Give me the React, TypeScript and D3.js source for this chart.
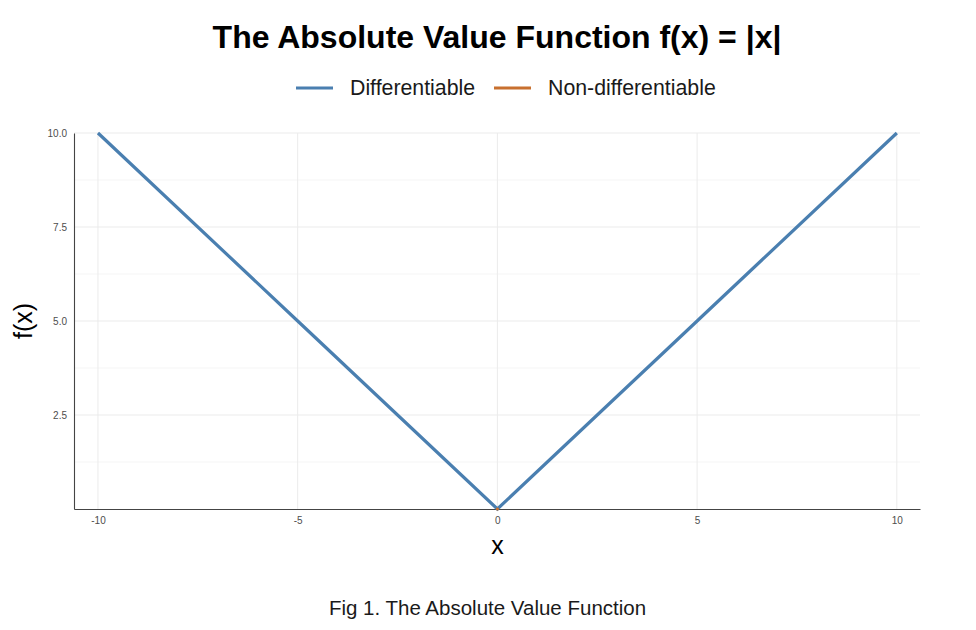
import * as d3 from "d3";
import { useEffect, useRef } from "react";

const diffX = [-10, -5, 0, 5, 10];
const diffY = [10, 5, 0, 5, 10];
const nonDiffX = [0];
const nonDiffY = [0];
const xTicks = [-10, -5, 0, 5, 10];
const yTicks = [2.5, 5.0, 7.5, 10.0];
const yMinor = [1.25, 3.75, 6.25, 8.75];
const seriesNames = ["Differentiable", "Non-differentiable"];
const seriesColors = ["#4a7fb0", "#c8702f"];

const W = 976;
const H = 630;

export default function App() {
  const ref = useRef<SVGSVGElement | null>(null);

  useEffect(() => {
    if (!ref.current) return;
    const svg = d3.select(ref.current);
    svg.selectAll("*").remove();

    const font = "'Liberation Sans', Arial, Helvetica, sans-serif";
    const margin = { top: 133, right: 56, bottom: 121, left: 74 };
    const innerW = W - margin.left - margin.right;
    const innerH = H - margin.top - margin.bottom;

    const x = d3.scaleLinear().domain([-10.6, 10.58]).range([0, innerW]);
    const y = d3.scaleLinear().domain([0, 10]).range([innerH, 0]);

    svg.append("rect").attr("width", W).attr("height", H).attr("fill", "#fff");

    const g = svg.append("g").attr("transform", `translate(${margin.left},${margin.top})`);

    // grid
    g.selectAll(".ymin")
      .data(yMinor)
      .join("line")
      .attr("x1", 0)
      .attr("x2", innerW)
      .attr("y1", (d) => y(d))
      .attr("y2", (d) => y(d))
      .attr("stroke", "#f2f2f2")
      .attr("stroke-width", 0.8);
    g.selectAll(".ymaj")
      .data(yTicks)
      .join("line")
      .attr("x1", 0)
      .attr("x2", innerW)
      .attr("y1", (d) => y(d))
      .attr("y2", (d) => y(d))
      .attr("stroke", "#ebebeb")
      .attr("stroke-width", 1);
    g.selectAll(".xmaj")
      .data(xTicks)
      .join("line")
      .attr("x1", (d) => x(d))
      .attr("x2", (d) => x(d))
      .attr("y1", 0)
      .attr("y2", innerH)
      .attr("stroke", "#ebebeb")
      .attr("stroke-width", 1);

    // axes (plain hyphen for negatives, like the reference)
    const xAxis = d3
      .axisBottom(x)
      .tickValues(xTicks)
      .tickSize(0)
      .tickPadding(8)
      .tickFormat((d) => String(d as number));
    const yAxis = d3.axisLeft(y).tickValues(yTicks).tickSize(0).tickPadding(7).tickFormat(d3.format(".1f"));

    const gx = g.append("g").attr("transform", `translate(0,${innerH})`).call(xAxis);
    const gy = g.append("g").call(yAxis);
    for (const a of [gx, gy]) {
      a.select(".domain").attr("stroke", "#444").attr("stroke-width", 1.1);
      a.selectAll("text").attr("fill", "#4d4d4d").style("font-family", font).style("font-size", "10px");
    }

    // lines
    const diff = diffX.map((v, i) => [v, diffY[i]] as [number, number]);
    const nonDiff = nonDiffX.map((v, i) => [v, nonDiffY[i]] as [number, number]);
    const line = d3
      .line<[number, number]>()
      .x((d) => x(d[0]))
      .y((d) => y(d[1]));

    g.append("path")
      .datum(diff)
      .attr("fill", "none")
      .attr("stroke", seriesColors[0])
      .attr("stroke-width", 3.2)
      .attr("d", line);

    g.append("path")
      .datum(nonDiff.length === 1 ? [nonDiff[0], nonDiff[0]] : nonDiff)
      .attr("fill", "none")
      .attr("stroke", seriesColors[1])
      .attr("stroke-width", 3.2)
      .attr("stroke-linecap", "round")
      .attr("d", (d) => `${line(d)}h0.01`);

    // title
    svg.append("text")
      .attr("x", 497)
      .attr("y", 48)
      .attr("text-anchor", "middle")
      .style("font-family", font)
      .style("font-weight", "bold")
      .style("font-size", "32px")
      .attr("fill", "#000")
      .text("The Absolute Value Function f(x) = |x|");

    // legend
    const legendX = [296, 494];
    seriesNames.forEach((name, i) => {
      svg.append("line")
        .attr("x1", legendX[i])
        .attr("x2", legendX[i] + 37)
        .attr("y1", 88)
        .attr("y2", 88)
        .attr("stroke", seriesColors[i])
        .attr("stroke-width", 3.2);
      svg.append("text")
        .attr("x", legendX[i] + 54)
        .attr("y", 95)
        .style("font-family", font)
        .style("font-size", "21.3px")
        .attr("fill", "#1a1a1a")
        .text(name);
    });

    // axis titles
    svg.append("text")
      .attr("x", margin.left + x(0))
      .attr("y", 554)
      .attr("text-anchor", "middle")
      .style("font-family", font)
      .style("font-size", "25px")
      .attr("fill", "#000")
      .text("x");

    svg.append("text")
      .attr("transform", `translate(32,${margin.top + innerH / 2}) rotate(-90)`)
      .attr("text-anchor", "middle")
      .style("font-family", font)
      .style("font-size", "25px")
      .attr("fill", "#000")
      .text("f(x)");

    // caption
    svg.append("text")
      .attr("x", 487.5)
      .attr("y", 615)
      .attr("text-anchor", "middle")
      .style("font-family", font)
      .style("font-size", "20.5px")
      .attr("fill", "#1a1a1a")
      .text("Fig 1. The Absolute Value Function");
  }, []);

  return (
    <div style={{ position: "absolute", left: 0, top: 0 }}>
      <svg ref={ref} width={W} height={H} style={{ display: "block" }} role="img" aria-label="Absolute value function" />
    </div>
  );
}
